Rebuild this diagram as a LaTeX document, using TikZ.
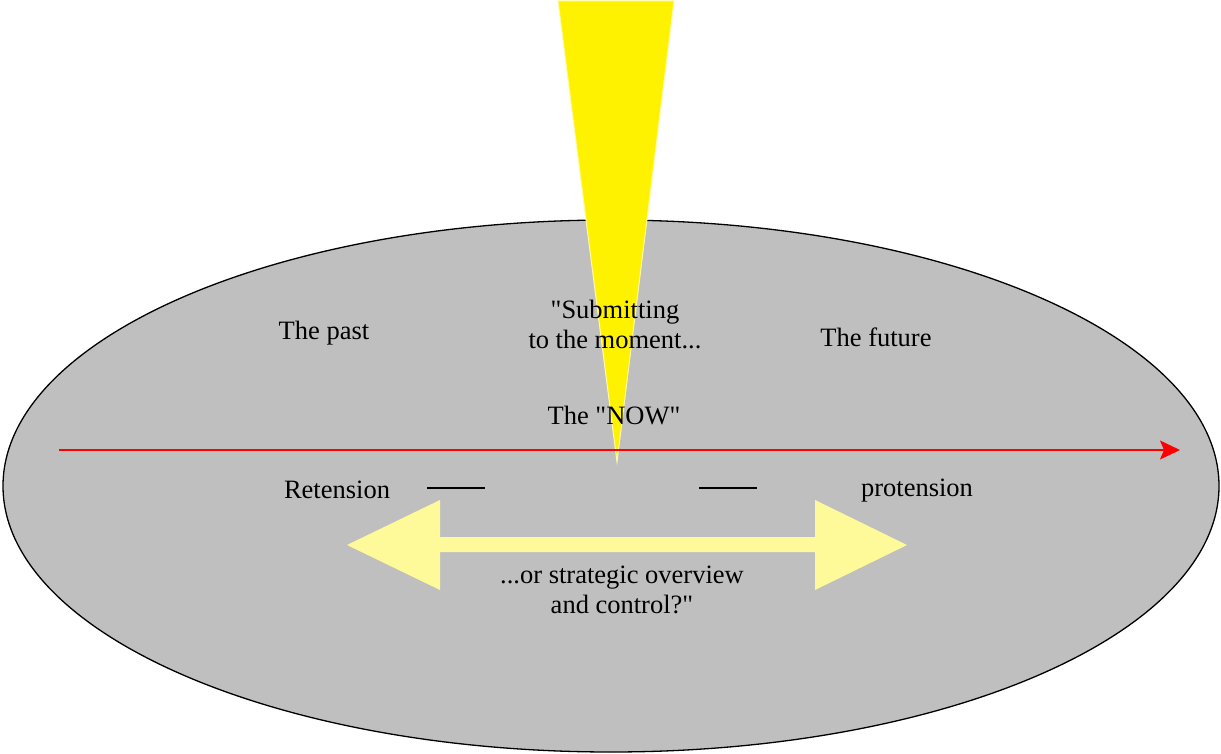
\documentclass[tikz,border=0pt]{standalone}
\usepackage{fontspec}
\setmainfont{Liberation Serif}
\usetikzlibrary{arrows.meta}

\begin{document}
\begin{tikzpicture}[x=1pt, y=-1pt,
        caption/.style={align=center, inner sep=0pt, font=\fontsize{26.5}{30}\selectfont},
        beam/.style={fill=yellow, draw=yellow!35, line width=1pt},
        timeline/.style={draw=red, line width=1.3pt,
          -{Stealth[length=20pt, width=19pt, inset=4pt]}},
        tickline/.style={draw=black, line width=1.3pt},
        span/.style={fill=yellow!40!white, draw=none}]
        \useasboundingbox (0,0) rectangle (1221,754);
        % field of time
        \fill[gray!50] (611,486) ellipse [x radius=608, y radius=266];
        \draw[line width=1.3pt] (611,486) ellipse [x radius=608, y radius=266];
        % the moment
        \path[beam] (558,1) -- (674,1) -- (617,462) -- cycle;
        % time axis
        \coordinate (T0) at (59,450);
        \coordinate (T1) at (1180,450);
        \draw[timeline] (T0) -- (T1);
        % overview arrow
        \path[span] (347,545) -- (440,500) -- (440,537) -- (815,537)
          -- (815,500) -- (907,545) -- (815,590) -- (815,552)
          -- (440,552) -- (440,590) -- cycle;
        % labels
        \node (past) at (324,333) [caption] {The past};
        \node (submit) at (615,324) [caption] {\textquotedbl Submitting\\to the moment...};
        \node (future) at (876,337) [caption] {The future};
        \node (now) at (614,416) [caption] {The \textquotedbl NOW\textquotedbl};
        \node (ret) at (337,490) [caption] {Retension};
        \node (pro) at (917,491) [caption] {protension};
        \node (ctrl) at (622,590) [caption] {...or strategic overview\\and control?\textquotedbl};
        \coordinate (d1) at (427,488);
        \coordinate (d2) at (485,488);
        \coordinate (d3) at (699,488);
        \coordinate (d4) at (757,488);
        \draw[tickline] (d1) -- (d2);
        \draw[tickline] (d3) -- (d4);
    \end{tikzpicture}
\end{document}
